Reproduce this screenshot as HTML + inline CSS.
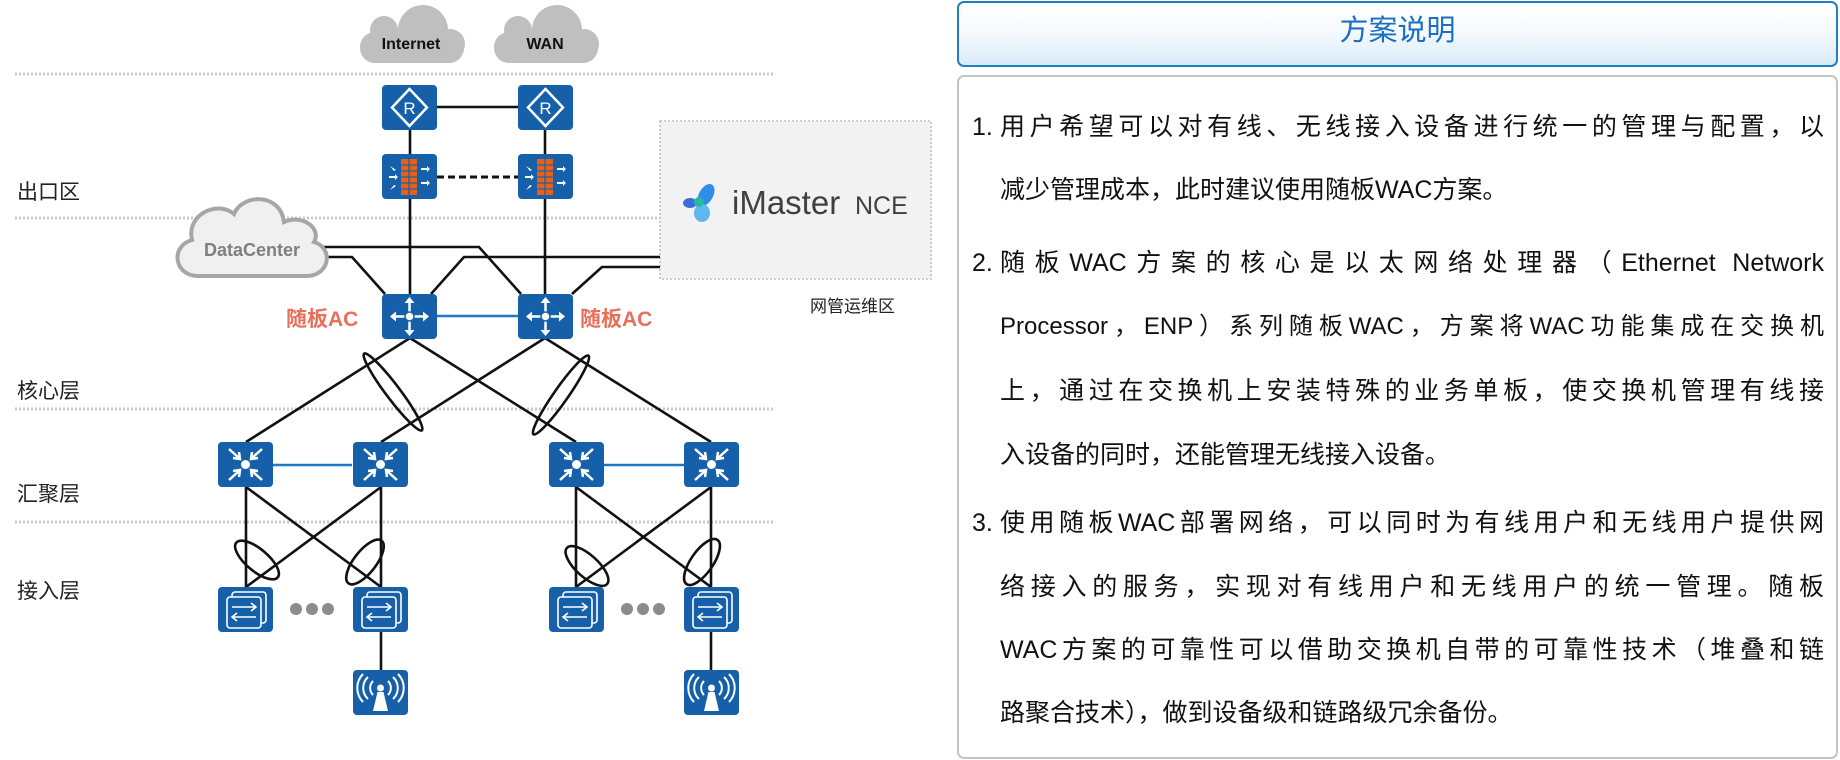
<!DOCTYPE html>
<html lang="zh"><head><meta charset="utf-8"><style>
html,body{margin:0;padding:0;background:#fff;}
body{width:1840px;height:760px;position:relative;overflow:hidden;font-family:"Liberation Sans","Noto Sans CJK SC",sans-serif;}
.abs{position:absolute;}
.lbl{position:absolute;font-size:21px;color:#222;line-height:1;}
.ln{position:absolute;left:1000px;width:824px;font-size:25px;line-height:1;color:#111;white-space:nowrap;text-align:justify;text-align-last:justify;text-justify:inter-character;}
.ln.last{text-align-last:left;}
.num{position:absolute;left:972px;font-size:25px;line-height:1;color:#111;}
</style></head><body>
<svg class="abs" style="left:0;top:0" width="940" height="760" viewBox="0 0 940 760">
<defs>
<g id="router"><rect x="0" y="0" width="55" height="45" rx="4" fill="#1560a8"/><path d="M27.5,4 L45,22.5 L27.5,41 L10,22.5 Z" fill="none" stroke="#fff" stroke-width="2.5"/><text x="27.5" y="29" font-size="17" fill="#fff" text-anchor="middle" font-family="Liberation Sans">R</text></g>
<g id="fw"><rect x="0" y="0" width="55" height="45" rx="4" fill="#1560a8"/><rect x="19" y="5" width="16" height="36" fill="#e8611a"/><g stroke="#1560a8" stroke-width="1.2"><line x1="19" y1="11" x2="35" y2="11"/><line x1="19" y1="17" x2="35" y2="17"/><line x1="19" y1="23" x2="35" y2="23"/><line x1="19" y1="29" x2="35" y2="29"/><line x1="19" y1="35" x2="35" y2="35"/><line x1="27" y1="5" x2="27" y2="41"/></g><g fill="#fff"><path d="M8,12 l6,4 -2,1 z"/><path d="M7,22 h6 v-2 l3,3 -3,3 v-2 h-6z"/><path d="M8,36 l6,-4 -2,-1 z"/><path d="M39,14 h6 v-2 l3,3 -3,3 v-2 h-6z"/><path d="M39,28 h6 v-2 l3,3 -3,3 v-2 h-6z"/></g></g>
<g id="core"><rect x="0" y="0" width="55" height="45" rx="4" fill="#1560a8"/><g stroke="#fff" stroke-width="2.5" fill="none"><line x1="27.5" y1="6" x2="27.5" y2="39"/><line x1="11" y1="22.5" x2="44" y2="22.5"/></g><g fill="#fff"><path d="M27.5,3 l-5,6 h10z"/><path d="M27.5,42 l-5,-6 h10z"/><path d="M8,22.5 l6,-5 v10z"/><path d="M47,22.5 l-6,-5 v10z"/><circle cx="27.5" cy="22.5" r="4.5" stroke="#1560a8" stroke-width="1.5"/></g></g>
<g id="agg"><rect x="0" y="0" width="55" height="45" rx="4" fill="#1560a8"/><g stroke="#fff" stroke-width="2.5" fill="none"><line x1="11" y1="7" x2="21" y2="16"/><line x1="44" y1="7" x2="34" y2="16"/><line x1="11" y1="38" x2="21" y2="29"/><line x1="44" y1="38" x2="34" y2="29"/><polyline points="15,16 22,17 21,10"/><polyline points="40,16 33,17 34,10"/><polyline points="15,29 22,28 21,35"/><polyline points="40,29 33,28 34,35"/></g><circle cx="27.5" cy="22.5" r="4.5" fill="#fff"/></g>
<g id="acc"><rect x="0" y="0" width="55" height="45" rx="4" fill="#1560a8"/><g stroke="#fff" stroke-width="1.6" fill="none"><rect x="14" y="5" width="34" height="31" rx="3"/><rect x="9" y="10" width="34" height="31" rx="3" fill="#1560a8"/><line x1="14" y1="20" x2="38" y2="20"/><polyline points="33,16 38,20 33,24"/><line x1="14" y1="30" x2="38" y2="30"/><polyline points="19,26 14,30 19,34"/></g></g>
<g id="ap"><rect x="0" y="0" width="55" height="45" rx="4" fill="#1560a8"/><path d="M24.5,22 L30.5,22 L35,41 L20,41 Z" fill="#fff"/><circle cx="27.5" cy="18" r="3.5" fill="#fff"/><g stroke="#fff" stroke-width="2" fill="none"><path d="M20,11 a10,10 0 0 0 0,14"/><path d="M35,11 a10,10 0 0 1 0,14"/><path d="M15,7 a15,15 0 0 0 0,22"/><path d="M40,7 a15,15 0 0 1 0,22"/><path d="M10,4 a20,20 0 0 0 0,28"/><path d="M45,4 a20,20 0 0 1 0,28"/></g></g>
</defs>
<g stroke="#c8c8c8" stroke-width="3" stroke-dasharray="2 2">
<line x1="15" y1="74" x2="774" y2="74"/><line x1="15" y1="218" x2="774" y2="218"/><line x1="15" y1="409" x2="774" y2="409"/><line x1="15" y1="522" x2="774" y2="522"/></g>
<g fill="#bfbfbf"><rect x="360" y="32" width="104" height="31" rx="15"/><circle cx="384" cy="30" r="14"/><circle cx="423" cy="30" r="25"/><circle cx="450" cy="44" r="15"/>
<rect x="494" y="32" width="104" height="31" rx="15"/><circle cx="518" cy="30" r="14"/><circle cx="557" cy="30" r="25"/><circle cx="584" cy="44" r="15"/></g>
<text x="411" y="49" font-size="16" font-weight="bold" text-anchor="middle" fill="#111">Internet</text>
<text x="545" y="49" font-size="16" font-weight="bold" text-anchor="middle" fill="#111">WAN</text>
<rect x="660" y="121" width="271" height="158" fill="#f2f2f2" stroke="#bdbdbd" stroke-width="1.5" stroke-dasharray="2 2"/>
<g><ellipse cx="706" cy="195" rx="7" ry="12" fill="#2e8ee8" transform="rotate(30 706 195)"/><ellipse cx="702" cy="213" rx="8" ry="9" fill="#5fb7f0"/><ellipse cx="690" cy="203" rx="7" ry="5" fill="#3a6fd8"/><circle cx="699" cy="202" r="5" fill="#2bb5a3"/></g>
<text x="732" y="214" font-size="33" fill="#404040">iMaster</text>
<text x="855" y="214" font-size="25" fill="#404040">NCE</text>
<g stroke="#111" stroke-width="2.6" fill="none">
<line x1="437" y1="107" x2="518" y2="107"/>
<line x1="410" y1="129" x2="410" y2="154"/><line x1="545" y1="129" x2="545" y2="154"/>
<line x1="437" y1="177" x2="518" y2="177" stroke-dasharray="7 4" stroke-width="3"/>
<line x1="410" y1="199" x2="410" y2="294"/><line x1="545" y1="199" x2="545" y2="294"/>
<polyline points="322,247 479,247 521,294"/>
<polyline points="322,257 352,257 385,294"/>
<polyline points="660,257 464,257 431,294"/>
<polyline points="660,267 602,267 572,294"/>
<line x1="410" y1="338" x2="246" y2="442"/><line x1="410" y1="338" x2="576" y2="442"/>
<line x1="545" y1="338" x2="381" y2="442"/><line x1="545" y1="338" x2="711" y2="442"/>
<ellipse cx="393" cy="392" rx="7" ry="48" transform="rotate(-37 393 392)"/>
<ellipse cx="561" cy="395" rx="7" ry="48" transform="rotate(35 561 395)"/>
<line x1="246" y1="487" x2="246" y2="587"/><line x1="246" y1="487" x2="381" y2="587"/>
<line x1="381" y1="487" x2="381" y2="587"/><line x1="381" y1="487" x2="246" y2="587"/>
<line x1="576" y1="487" x2="576" y2="587"/><line x1="576" y1="487" x2="711" y2="587"/>
<line x1="711" y1="487" x2="711" y2="587"/><line x1="711" y1="487" x2="576" y2="587"/>
<ellipse cx="257" cy="560" rx="27" ry="11" transform="rotate(40 257 560)"/>
<ellipse cx="365" cy="562" rx="27" ry="11" transform="rotate(-52 365 562)"/>
<ellipse cx="587" cy="566" rx="27" ry="11" transform="rotate(42 587 566)"/>
<ellipse cx="702" cy="562" rx="27" ry="11" transform="rotate(-55 702 562)"/>
<line x1="381" y1="632" x2="381" y2="670"/><line x1="711" y1="632" x2="711" y2="670"/>
</g>
<g stroke="#1a7ac8" stroke-width="2.6"><line x1="437" y1="316" x2="518" y2="316"/><line x1="272" y1="465" x2="352" y2="465"/><line x1="604" y1="465" x2="684" y2="465"/></g>
<path d="M198,276 C174,276 170,246 192,240 C186,214 218,200 234,214 C242,194 280,192 284,222 C302,214 322,228 314,242 C334,248 330,276 306,276 Z" fill="#f0f0f0" stroke="#a6a6a6" stroke-width="4"/>
<text x="252" y="256" font-size="18" font-weight="bold" text-anchor="middle" fill="#7f7f7f">DataCenter</text>
<use href="#router" x="382" y="85"/><use href="#router" x="518" y="85"/>
<use href="#fw" x="382" y="154"/><use href="#fw" x="518" y="154"/>
<use href="#core" x="382" y="294"/><use href="#core" x="518" y="294"/>
<use href="#agg" x="218" y="442"/><use href="#agg" x="353" y="442"/><use href="#agg" x="549" y="442"/><use href="#agg" x="684" y="442"/>
<use href="#acc" x="218" y="587"/><use href="#acc" x="353" y="587"/><use href="#acc" x="549" y="587"/><use href="#acc" x="684" y="587"/>
<use href="#ap" x="353" y="670"/><use href="#ap" x="684" y="670"/>
<g fill="#8c8c8c"><circle cx="296" cy="609" r="6"/><circle cx="312" cy="609" r="6"/><circle cx="328" cy="609" r="6"/><circle cx="627" cy="609" r="6"/><circle cx="643" cy="609" r="6"/><circle cx="659" cy="609" r="6"/></g>
<text x="286" y="326" font-size="21" font-weight="bold" fill="#e8705a" font-family="Liberation Sans, Noto Sans CJK SC, sans-serif">随板AC</text>
<text x="580" y="326" font-size="21" font-weight="bold" fill="#e8705a" font-family="Liberation Sans, Noto Sans CJK SC, sans-serif">随板AC</text>
</svg>
<div class="lbl" style="left:17px;top:182px">出口区</div>
<div class="lbl" style="left:17px;top:381px">核心层</div>
<div class="lbl" style="left:17px;top:484px">汇聚层</div>
<div class="lbl" style="left:17px;top:581px">接入层</div>
<div class="lbl" style="left:810px;top:298px;font-size:17px">网管运维区</div>

<div class="abs" style="left:957px;top:1px;width:877px;height:62px;border:2px solid #1f7fc0;border-radius:7px;background:linear-gradient(#ffffff,#f4f9fd 50%,#d8ebf8);"></div>
<div class="abs" style="left:957px;top:17px;width:881px;text-align:center;font-size:29px;line-height:1;color:#1a6fc0;">方案说明</div>
<div class="abs" style="left:957px;top:75px;width:877px;height:680px;border:2px solid #c4c4c4;border-radius:7px;"></div>

<div class="num" style="top:115px">1.</div>
<div class="ln" style="top:115px">用户希望可以对有线、无线接入设备进行统一的管理与配置，以</div>
<div class="ln last" style="top:178px">减少管理成本，此时建议使用随板WAC方案。</div>
<div class="num" style="top:251px">2.</div>
<div class="ln" style="top:251px">随板WAC方案的核心是以太网络处理器（Ethernet Network</div>
<div class="ln" style="top:315px;font-size:24px">Processor，ENP）系列随板WAC，方案将WAC功能集成在交换机</div>
<div class="ln" style="top:379px">上，通过在交换机上安装特殊的业务单板，使交换机管理有线接</div>
<div class="ln last" style="top:443px">入设备的同时，还能管理无线接入设备。</div>
<div class="num" style="top:511px">3.</div>
<div class="ln" style="top:511px">使用随板WAC部署网络，可以同时为有线用户和无线用户提供网</div>
<div class="ln" style="top:575px">络接入的服务，实现对有线用户和无线用户的统一管理。随板</div>
<div class="ln" style="top:638px">WAC方案的可靠性可以借助交换机自带的可靠性技术（堆叠和链</div>
<div class="ln last" style="top:701px">路聚合技术），做到设备级和链路级冗余备份。</div>
</body></html>
